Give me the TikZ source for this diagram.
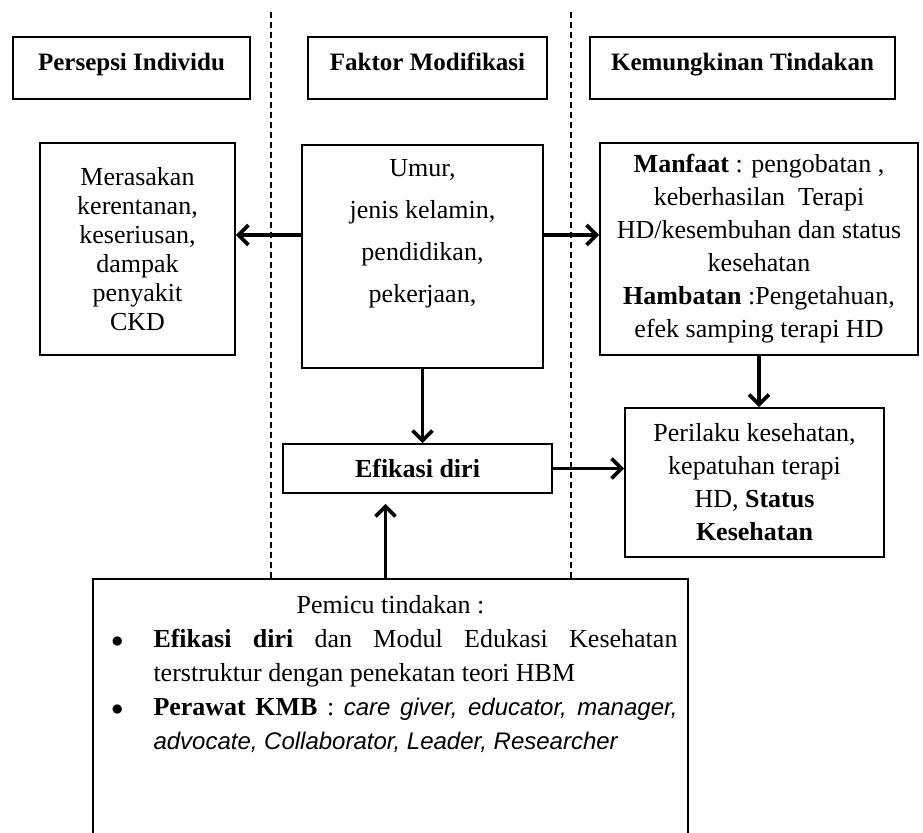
\documentclass[tikz,border=0pt]{standalone}
\usepackage{fontspec}
\setmainfont{Liberation Serif}
\newfontfamily\rolefont{Liberation Sans}
\usetikzlibrary{arrows.meta,positioning}

\begin{document}
\begin{tikzpicture}[
  x=0.5pt,y=-0.5pt,font=\fontsize{13}{14.5}\selectfont,
  arr/.style={-{Straight Barb[length=5pt,width=10pt]},line width=1.9pt},
  box/.style={draw,line width=0.8pt,align=center,inner sep=3pt},
  head/.style={box,font=\bfseries\fontsize{12.5}{14}\selectfont,minimum height=31pt,line width=0.9pt,
               text height=8pt,text depth=5.5pt},
  sep/.style={draw,line width=0.6pt,dash pattern=on 3pt off 2pt}
]
\useasboundingbox (0,0) rectangle (923,832);
% ---------- column separators
\draw[sep] (271,12) -- (271,578);
\draw[sep] (571,12) -- (571,578);
% ---------- headers
\node[head,minimum width=118.5pt] (hPI) at (131.5,68) {Persepsi Individu};
\node[head,minimum width=119.5pt] (hFM) at (427.5,68) {Faktor Modifikasi};
\node[head,minimum width=152.5pt] (hKT) at (742.5,68) {Kemungkinan Tindakan};
% ---------- main boxes
\node[box,minimum width=97.5pt,minimum height=106pt] (rasa) at (137.5,249)
  {Merasakan\\kerentanan,\\keseriusan,\\dampak\\penyakit\\CKD};
\node[box,minimum width=120.5pt,inner ysep=5.75pt] (umur) at (422.5,256.5)
  {\parbox[c][100pt][t]{110pt}{\centering\fontsize{13}{21}\selectfont
   \vspace*{1.5pt}Umur,\\jenis kelamin,\\pendidikan,\\pekerjaan,}};
\node[box,minimum width=159pt,minimum height=106pt,font=\fontsize{13}{16.5}\selectfont] (manfaat) at (759,249)
  {\textbf{Manfaat} : pengobatan ,\\keberhasilan\ \ Terapi\\HD/kesembuhan dan status\\kesehatan\\
   \textbf{Hambatan} :Pengetahuan,\\efek samping terapi HD};
\node[box,minimum width=134.5pt,minimum height=24.5pt,font=\bfseries\fontsize{13}{14.5}\selectfont] (efikasi) at (417.5,468.5)
  {Efikasi diri};
\node[box,minimum width=129.5pt,minimum height=74.5pt,font=\fontsize{13}{16.5}\selectfont] (perilaku) at (754.5,482.5)
  {Perilaku kesehatan,\\kepatuhan terapi\\HD, \textbf{Status}\\\textbf{Kesehatan}};
% ---------- trigger box
\node[box,anchor=north,minimum width=297.5pt,inner xsep=5.25pt,inner ysep=4pt,align=left] (pemicu) at (390.5,578)
  {\begin{minipage}[c][132pt][t]{287pt}
   \fontsize{13}{17}\selectfont\hyphenpenalty=10000
   \vspace*{4.5pt}{\centering Pemicu tindakan :\par}
   \begin{list}{$\bullet$}{\setlength\leftmargin{25pt}\setlength\labelwidth{8pt}%
     \setlength\labelsep{15pt}\setlength\itemsep{0pt}\setlength\topsep{0pt}%
     \setlength\partopsep{0pt}\setlength\parsep{0pt}}
   \item \textbf{Efikasi diri} dan Modul Edukasi Kesehatan terstruktur dengan penekatan teori HBM
   \item \textbf{Perawat KMB} : {\rolefont\itshape\fontsize{12}{17}\selectfont care giver, educator, manager, advocate, Collaborator, Leader, Researcher}
   \end{list}
   \end{minipage}};
% ---------- arrows
\draw[arr] ([yshift=7pt]umur.west |- rasa.east) -- ([yshift=7pt]rasa.east);
\draw[arr] ([yshift=7pt]umur.east |- manfaat.west) -- ([yshift=7pt]manfaat.west);
\draw[arr] (umur.south) -- (umur.south |- efikasi.north);
\draw[arr] (manfaat.south) -- (manfaat.south |- perilaku.north);
\draw[arr] (efikasi.east) -- (efikasi.east -| perilaku.west);
\draw[arr] ([xshift=-16pt]efikasi.south |- pemicu.north) -- ([xshift=-16pt,yshift=-5pt]efikasi.south);
\end{tikzpicture}
\end{document}
